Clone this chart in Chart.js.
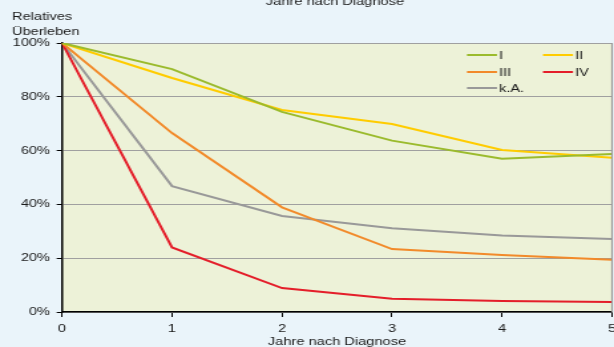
<!DOCTYPE html>
<html>
<head>
<meta charset="utf-8">
<script src="https://cdn.jsdelivr.net/npm/chart.js@4"></script>
<style>
  html, body { margin: 0; padding: 0; background: #eaf4fa; overflow: hidden; }
  /* the source picture is a horizontally stretched chart, so draw narrow and stretch */
  #wrap { width: 462px; height: 347px; transform: scaleX(1.329); transform-origin: 0 0; }
</style>
</head>
<body>
<div id="wrap"><canvas id="survival"></canvas></div>
<script>
// years after diagnosis
var years = [0, 1, 2, 3, 4, 5];
// relative survival in %, per stage
var stageI   = [100, 90.3, 74.4, 63.7, 57.0, 58.7];
var stageII  = [100, 87.0, 75.1, 69.9, 60.2, 57.3];
var stageIII = [100, 66.5, 38.9, 23.4, 21.2, 19.4];
var stageIV  = [100, 24.0, 8.9, 4.9, 4.1, 3.7];
var stageKA  = [100, 46.8, 35.7, 31.1, 28.4, 27.1];
var seriesNames = ["I", "II", "III", "IV", "k.A."];
var yTicks = [0, 20, 40, 60, 80, 100];

var FONT = "'Liberation Sans', Arial, sans-serif";
var K = 1.329; // horizontal stretch of the page

function rx(x) { return x / K; }

function pts(vals) {
    return vals.map(function (v, i) { return { x: years[i], y: v }; });
}

function ds(label, vals, color) {
    return {
        label: label,
        data: pts(vals),
        borderColor: color,
        backgroundColor: color,
        borderWidth: 2,
        pointRadius: 0,
        tension: 0
    };
}

// plot background + right border + extra texts + legend
var decor = {
    id: 'decor',
    beforeDraw: function (chart) {
        var c = chart.ctx, a = chart.chartArea;
        c.save();
        c.fillStyle = '#edf2d8';
        c.fillRect(a.left, a.top, a.right - a.left, a.bottom - a.top);
        c.restore();
    },
    afterDraw: function (chart) {
        var c = chart.ctx, a = chart.chartArea;
        c.save();
        c.strokeStyle = '#9a9a9a';
        c.lineWidth = 1.2;
        c.beginPath();
        c.moveTo(a.right, a.top);
        c.lineTo(a.right, a.bottom);
        c.stroke();

        c.fillStyle = '#1a1a1a';
        c.font = '11px ' + FONT;
        c.textBaseline = 'middle';
        c.textAlign = 'left';
        c.fillText('Relatives', rx(12), 17);
        c.fillText('Überleben', rx(12), 31.5);
        c.textAlign = 'center';
        c.textBaseline = 'alphabetic';
        c.fillText('Jahre nach Diagnose', rx(335), 4.5);

        // legend inside the plot, two columns
        var pos = [[467, 55], [543, 55], [467, 72], [543, 72], [467, 88]];
        chart.data.datasets.forEach(function (d, i) {
            var p = pos[i];
            c.strokeStyle = d.borderColor;
            c.lineWidth = 2;
            c.beginPath();
            c.moveTo(rx(p[0]), p[1]);
            c.lineTo(rx(p[0] + 30), p[1]);
            c.stroke();
            c.fillStyle = '#1a1a1a';
            c.textAlign = 'left';
            c.textBaseline = 'middle';
            c.fillText(d.label, rx(p[0] + 32), p[1] + 0.5);
        });
        c.restore();
    }
};

new Chart(document.getElementById('survival'), {
    type: 'line',
    data: {
        datasets: [
            ds(seriesNames[0], stageI, '#9bbb2d'),
            ds(seriesNames[1], stageII, '#ffcc00'),
            ds(seriesNames[2], stageIII, '#f28a2a'),
            ds(seriesNames[3], stageIV, '#e41e2a'),
            ds(seriesNames[4], stageKA, '#999999')
        ]
    },
    options: {
        responsive: true,
        maintainAspectRatio: false,
        animation: false,
        layout: { padding: { top: 43, right: 1.5, left: 0, bottom: 0 } },
        plugins: {
            legend: { display: false },
            tooltip: { enabled: false }
        },
        scales: {
            x: {
                type: 'linear',
                min: 0,
                max: 5,
                afterBuildTicks: function (s) {
                    s.ticks = years.map(function (v) { return { value: v }; });
                },
                afterFit: function (s) {
                    s.height = 35;
                    s.paddingLeft = 0;
                    s.paddingRight = 0;
                },
                grid: { drawOnChartArea: false, tickLength: 5, tickColor: '#000', tickWidth: 1 },
                border: { color: '#000', width: 1.5 },
                ticks: { color: '#1a1a1a', font: { family: FONT, size: 11 }, padding: 5, maxRotation: 0 },
                title: {
                    display: true,
                    text: 'Jahre nach Diagnose',
                    color: '#1a1a1a',
                    font: { family: FONT, size: 11 },
                    padding: { top: 0, bottom: -2 }
                }
            },
            y: {
                min: 0,
                max: 100,
                afterBuildTicks: function (s) {
                    s.ticks = yTicks.map(function (v) { return { value: v }; });
                },
                afterFit: function (s) { s.width = rx(62); },
                grid: { color: '#a0a0a0', lineWidth: 1, tickLength: 4, tickColor: '#000' },
                border: { color: '#000', width: 1.5 },
                ticks: {
                    color: '#1a1a1a',
                    font: { family: FONT, size: 11 },
                    padding: 5,
                    callback: function (v) { return v + '%'; }
                }
            }
        }
    },
    plugins: [decor]
});
</script>
</body>
</html>
